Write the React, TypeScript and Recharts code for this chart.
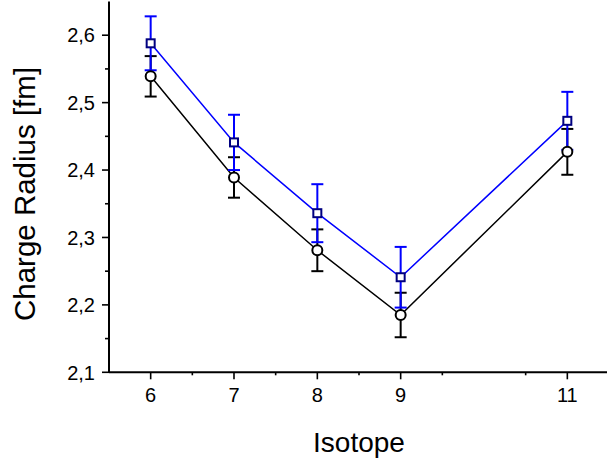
import React from 'react';
import { ComposedChart, Line, XAxis, YAxis, ErrorBar } from 'recharts';

// Data
const isotopes = [6, 7, 8, 9, 11];
const radiusBlack = [2.539, 2.389, 2.281, 2.185, 2.427];
const errBlack = [0.03, 0.03, 0.031, 0.033, 0.034];
const radiusBlue = [2.588, 2.441, 2.336, 2.241, 2.473];
const errBlue = [0.04, 0.041, 0.043, 0.045, 0.043];

const xMajor = [6, 7, 8, 9, 11];
const xMinor = [6.5, 7.5, 8.5, 9.5, 10.5];
const yMajor = [2.1, 2.2, 2.3, 2.4, 2.5, 2.6];
const yMinor = [2.15, 2.25, 2.35, 2.45, 2.55];

const xTitle = 'Isotope';
const yTitle = 'Charge Radius [fm]';

const data = isotopes.map((x, i) => ({
  x,
  black: radiusBlack[i],
  blackErr: errBlack[i],
  blue: radiusBlue[i],
  blueErr: errBlue[i],
}));

const FONT = "'Liberation Sans', Arial, sans-serif";
const xTicks = [...xMajor, ...xMinor].sort((a, b) => a - b);
const yTicks = [...yMajor, ...yMinor].sort((a, b) => a - b);

const XTick = (props: any) => {
  const { x, y, payload } = props;
  const major = xMajor.includes(payload.value);
  return (
    <g>
      <line x1={x} x2={x} y1={y} y2={y + (major ? 7 : 3)} stroke="#000" strokeWidth={1.6} />
      {major && (
        <text x={x} y={y + 29.5} textAnchor="middle" fontSize={20} fontFamily={FONT} fill="#000">
          {String(payload.value)}
        </text>
      )}
    </g>
  );
};

const TopTick = (props: any) => {
  const { x, y, payload } = props;
  const major = xMajor.includes(payload.value);
  return <line x1={x} x2={x} y1={y} y2={y - (major ? 7 : 3)} stroke="#000" strokeWidth={1.6} />;
};

const YTick = (props: any) => {
  const { x, y, payload } = props;
  const major = yMajor.some((v) => Math.abs(v - payload.value) < 1e-9);
  return (
    <g>
      <line x1={x} x2={x - (major ? 7 : 4)} y1={y} y2={y} stroke="#000" strokeWidth={1.6} />
      {major && (
        <text x={x - 14} y={y + 7.2} textAnchor="end" fontSize={20} fontFamily={FONT} fill="#000">
          {payload.value.toFixed(1).replace('.', ',')}
        </text>
      )}
    </g>
  );
};

const CircleDot = (props: any) => {
  const { cx, cy } = props;
  if (cx == null || cy == null) return null;
  return <circle cx={cx} cy={cy} r={5} fill="#fff" stroke="#000" strokeWidth={2} />;
};

const SquareDot = (props: any) => {
  const { cx, cy } = props;
  if (cx == null || cy == null) return null;
  return <rect x={cx - 4} y={cy - 4} width={8} height={8} fill="#fff" stroke="#000080" strokeWidth={2} />;
};

export default function App() {
  return (
    <div style={{ position: 'absolute', left: 0, top: 0, width: 607, height: 466, overflow: 'hidden', background: '#fff' }}>
      <ComposedChart
        width={620}
        height={466}
        data={data}
        margin={{ top: 1.5, right: 11, bottom: 33.7, left: 49 }}
      >
        <XAxis
          dataKey="x"
          type="number"
          domain={[5.5, 11.5]}
          ticks={xTicks}
          interval={0}
          allowDataOverflow
          height={60}
          tickSize={0}
          tickMargin={0}
          tickLine={false}
          stroke="#000"
          axisLine={{ stroke: '#000', strokeWidth: 2 }}
          tick={XTick}
          label={(p: any) => {
            const vb = p.viewBox || { x: 109, y: 372.3, width: 500 };
            return (
              <text x={vb.x + vb.width / 2} y={vb.y + 80} textAnchor="middle" fontSize={28} fontFamily={FONT} fill="#000">
                {xTitle}
              </text>
            );
          }}
        />
        <XAxis
          xAxisId="top"
          dataKey="x"
          type="number"
          orientation="top"
          domain={[5.5, 11.5]}
          ticks={xTicks}
          interval={0}
          allowDataOverflow
          height={0}
          tickSize={0}
          tickMargin={0}
          tickLine={false}
          stroke="#000"
          axisLine={{ stroke: '#000', strokeWidth: 2 }}
          tick={TopTick}
        />
        <YAxis
          type="number"
          domain={[2.1, 2.65]}
          ticks={yTicks}
          interval={0}
          allowDataOverflow
          width={60}
          tickSize={0}
          tickMargin={0}
          tickLine={false}
          stroke="#000"
          axisLine={{ stroke: '#000', strokeWidth: 2 }}
          tick={YTick}
          label={() => (
            <text x={35} y={194} transform="rotate(-90, 35, 194)" textAnchor="middle" fontSize={29.5} fontFamily={FONT} fill="#000">
              {yTitle}
            </text>
          )}
        />
        <Line
          dataKey="black"
          type="linear"
          stroke="#000"
          strokeWidth={1.5}
          dot={CircleDot}
          activeDot={false}
          isAnimationActive={false}
        >
          <ErrorBar dataKey="blackErr" width={6} strokeWidth={2} stroke="#000" direction="y" isAnimationActive={false} />
        </Line>
        <Line
          dataKey="blue"
          type="linear"
          stroke="#0000ff"
          strokeWidth={1.5}
          dot={SquareDot}
          activeDot={false}
          isAnimationActive={false}
        >
          <ErrorBar dataKey="blueErr" width={6} strokeWidth={2} stroke="#0000ff" direction="y" isAnimationActive={false} />
        </Line>
      </ComposedChart>
    </div>
  );
}
